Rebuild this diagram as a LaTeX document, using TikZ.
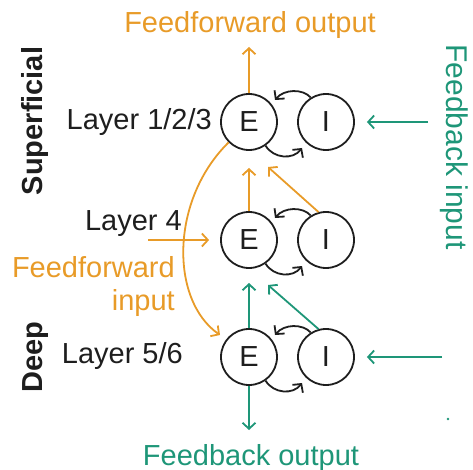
\documentclass[tikz,border=0pt]{standalone}
\usepackage{fontspec}
\setmainfont{Liberation Sans}
\usetikzlibrary{arrows.meta,calc}
\definecolor{ffor}{RGB}{232,155,40}
\definecolor{fback}{RGB}{30,150,120}
\definecolor{ink}{RGB}{30,30,30}
\begin{document}
\begin{tikzpicture}[x=1pt,y=-1pt,
  cell/.style={circle,draw=ink,line width=1.8pt,minimum size=56pt,inner sep=0pt,font=\fontsize{29}{34}\selectfont,text=ink},
  lab/.style={font=\fontsize{29}{34}\selectfont,inner sep=0pt,text=ink},
  tipa/.style={-{Straight Barb[length=6pt,width=13pt]}},
  ffw/.style={draw=ffor,line width=1.8pt,tipa},
  fbk/.style={draw=fback,line width=1.8pt,tipa},
  rec/.style={draw=ink,line width=1.8pt,tipa}]
\useasboundingbox (0,0) rectangle (473,470);
% cells
\foreach \r/\y in {1/122,2/240,3/357}{
  \node[cell] (E\r) at (249,\y) {E};
  \node[cell] (I\r) at (326,\y) {I};
}
\foreach \r in {1,2,3}{
  \draw[rec] (I\r.122) .. controls +(-8,-9) and +(9,-11) .. ($(E\r)+(26,-22)$);
  \draw[rec] (E\r.-55) .. controls +(8,13) and +(-9,12) .. ($(I\r)+(-24,26)$);
}
% labels
\node[lab,anchor=base east] (L1) at (212,130) {Layer 1/2/3};
\node[lab,anchor=base east] (L4) at (182,230) {Layer 4};
\node[lab,anchor=base east,text=ffor] (FFI1) at (175,277) {Feedforward};
\node[lab,anchor=base east,text=ffor] (FFI2) at (175,310) {input};
\node[lab,anchor=base east] (L5) at (183,363) {Layer 5/6};
\node[lab,font=\fontsize{29}{34}\selectfont\bfseries,rotate=90] (SUP) at (35,121) {Superficial};
\node[lab,font=\fontsize{29}{34}\selectfont\bfseries,rotate=90] (DEEP) at (36,357) {Deep};
\node[lab,anchor=base,text=ffor] (FFO) at (250,33) {Feedforward output};
\node[lab,anchor=base,text=fback] (FBO) at (251,465) {Feedback output};
\node[lab,font=\fontsize{30}{34}\selectfont,rotate=-90,text=fback] (FBI) at (454,147) {Feedback input};
% free ends
\coordinate (ffo) at (249,47);
\coordinate (ffi) at (148,240);
\coordinate (fbi1) at (428,122);
\coordinate (fbi3) at (442,357);
\coordinate (fbo) at (249,430);
% feedforward
\draw[ffw] (E1.north) -- (ffo);
\draw[ffw] (ffi) -- ($(E2.west)+(-11,0)$);
\draw[ffw] (E1.225) .. controls (170,200) and (170,300) .. ($(E3)+(-29,-22)$);
\draw[ffw] (E2.north) -- ($(E1)+(0,46)$);
\draw[ffw] (I2.105) -- ($(E1)+(19,45)$);
% feedback
\draw[fbk] (E3.north) -- ($(E2)+(0,43)$);
\draw[fbk] (I3.105) -- ($(E2)+(19,45)$);
\draw[fbk] (fbi1) -- ($(I1.east)+(12,0)$);
\draw[fbk] (fbi3) -- ($(I3.east)+(12,0)$);
\draw[fbk] (E3.south) -- (fbo);
\fill[fback] (448,419) circle (1.3);
\end{tikzpicture}
\end{document}
